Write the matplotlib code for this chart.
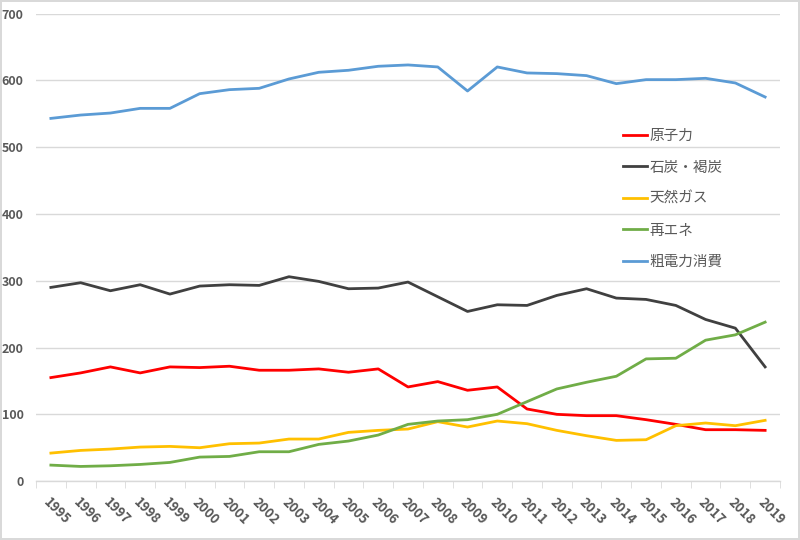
import matplotlib.pyplot as plt
from matplotlib.ticker import MultipleLocator

plt.rcParams['font.family'] = ['Noto Sans CJK JP', 'DejaVu Sans']

# Data
years = [str(y) for y in range(1995, 2020)]
nuclear = [155, 162, 171, 162, 171, 170, 172, 166, 166, 168, 163, 168,
           141, 149, 136, 141, 108, 100, 98, 98, 92, 85, 77, 77, 76]
coal = [290, 297, 285, 294, 280, 292, 294, 293, 306, 299, 288, 289,
        298, 276, 254, 264, 263, 278, 288, 274, 272, 263, 242, 229, 171]
gas = [42, 46, 48, 51, 52, 50, 56, 57, 63, 63, 73, 76,
       78, 89, 81, 90, 86, 76, 68, 61, 62, 83, 87, 83, 91]
renew = [24, 22, 23, 25, 28, 36, 37, 44, 44, 55, 60, 69,
         85, 90, 92, 100, 119, 138, 148, 157, 183, 184, 211, 219, 238]
consumption = [543, 548, 551, 558, 558, 580, 586, 588, 602, 612, 615, 621,
               623, 620, 584, 620, 611, 610, 607, 595, 601, 601, 603, 596, 575]

series = [
    ('原子力', nuclear, '#FF0000'),
    ('石炭・褐炭', coal, '#404040'),
    ('天然ガス', gas, '#FFC000'),
    ('再エネ', renew, '#70AD47'),
    ('粗電力消費', consumption, '#5B9BD5'),
]

text_color = '#595959'
grid_color = '#D9D9D9'

fig = plt.figure(figsize=(8, 5.4), dpi=100)
fig.patch.set_edgecolor(grid_color)
fig.patch.set_linewidth(1.5)
ax = fig.add_axes([0.045, 0.109, 0.93, 0.866])

x = list(range(len(years)))
for name, vals, color in series:
    ax.plot(x, vals, color=color, linewidth=2.0, label=name)

ax.set_xlim(-0.5, len(years) - 0.5)
ax.set_ylim(0, 700)
ax.yaxis.set_major_locator(MultipleLocator(100))
ax.grid(axis='y', color=grid_color, linewidth=1)
ax.set_axisbelow(True)

for side in ['left', 'right', 'top']:
    ax.spines[side].set_visible(False)
ax.spines['bottom'].set_color(grid_color)
ax.spines['bottom'].set_linewidth(1)

ax.set_xticks(x)
ax.set_xticklabels(years, rotation=-45, ha='left', rotation_mode='anchor')
ax.set_xticks([i - 0.5 for i in range(len(years) + 1)], minor=True)
ax.tick_params(axis='x', which='major', length=0, pad=10,
               labelsize=9.5, labelcolor=text_color)
ax.tick_params(axis='x', which='minor', length=5, color=grid_color)
ax.tick_params(axis='y', length=0, pad=9, labelsize=9, labelcolor=text_color)
for lbl in ax.get_yticklabels() + ax.get_xticklabels():
    lbl.set_fontweight('bold')

leg = ax.legend(loc='upper left', bbox_to_anchor=(0.772, 0.781),
                frameon=False, fontsize=10.5, handlelength=1.6,
                handletextpad=0.2, labelspacing=1.2)
for t in leg.get_texts():
    t.set_color(text_color)

plt.savefig('out.png', dpi=100)
